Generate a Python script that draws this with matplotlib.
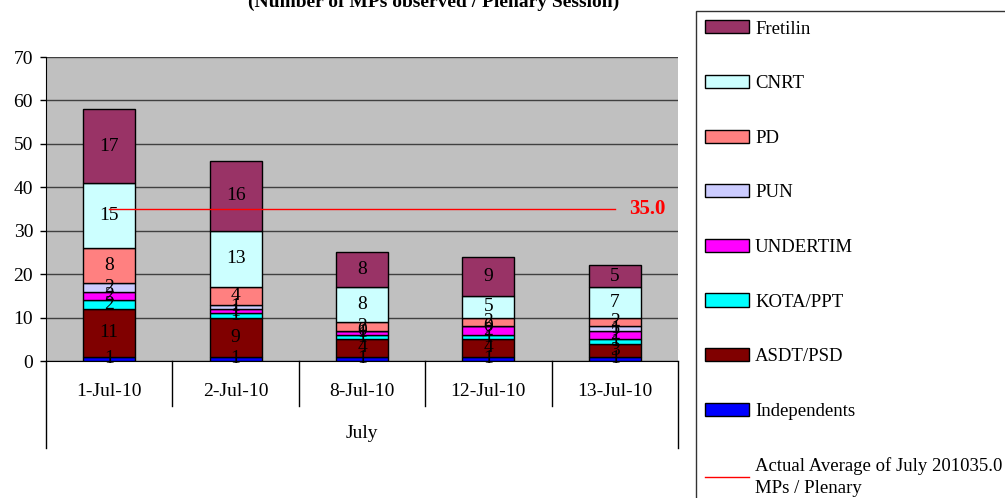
import matplotlib
matplotlib.use("Agg")
import matplotlib.pyplot as plt
import matplotlib.transforms as mtransforms
from matplotlib.lines import Line2D
import numpy as np

plt.rcParams['font.family'] = ['Liberation Serif', 'DejaVu Serif']

# Data
dates = ['1-Jul-10', '2-Jul-10', '8-Jul-10', '12-Jul-10', '13-Jul-10']
month = 'July'
independents = [1, 1, 1, 1, 1]
asdt_psd = [11, 9, 4, 4, 3]
kota_ppt = [2, 1, 1, 1, 1]
undertim = [2, 1, 1, 2, 2]
pun = [2, 1, 0, 0, 1]
pd_party = [8, 4, 2, 2, 2]
cnrt = [15, 13, 8, 5, 7]
fretilin = [17, 16, 8, 9, 5]
average = 35.0

series = [
    ('Independents', independents, '#0000FF'),
    ('ASDT/PSD', asdt_psd, '#800000'),
    ('KOTA/PPT', kota_ppt, '#00FFFF'),
    ('UNDERTIM', undertim, '#FF00FF'),
    ('PUN', pun, '#CCCCFF'),
    ('PD', pd_party, '#FF8080'),
    ('CNRT', cnrt, '#CCFFFF'),
    ('Fretilin', fretilin, '#993366'),
]

W, H = 1005, 498
fig = plt.figure(figsize=(W / 100, H / 100), dpi=100)
ax = fig.add_axes([46 / W, (H - 361) / H, (678 - 46) / W, (361 - 57) / H])
ax.set_facecolor('#C0C0C0')

x = np.arange(len(dates))
bottom = np.zeros(len(dates))
handles = []
for name, vals, col in series:
    vals = np.array(vals, dtype=float)
    bars = ax.bar(x, vals, 0.41, bottom=bottom, color=col, edgecolor='black',
                  linewidth=1, label=name, zorder=3)
    ax.bar_label(bars, labels=[f'{int(v)}' for v in vals], label_type='center',
                 fontsize=14, color='black', zorder=4)
    handles.append(bars)
    bottom += vals

avg_line, = ax.plot([x[0], x[-1]], [average, average], color='#FF0000', lw=1, zorder=5)
ax.annotate(f'{average:.1f}', (x[-1], average), xytext=(14, 0), textcoords='offset pixels',
            color='#FF0000', fontsize=15, fontweight='bold', va='center', ha='left')

ax.set_xlim(-0.5, len(dates) - 0.5)
ax.set_ylim(0, 70)
ax.set_yticks(np.arange(0, 71, 10))
ax.tick_params(axis='y', direction='out', length=4.3, width=1, labelsize=14, pad=5)
ax.set_xticks([])
ax.yaxis.grid(True, color='#404040', lw=1)
ax.set_axisbelow(True)
for s in ['top', 'right']:
    ax.spines[s].set_visible(False)
ax.spines['left'].set_color('black')
ax.spines['bottom'].set_color('black')

# category table below the axis
tr = mtransforms.blended_transform_factory(ax.transData, ax.transAxes)
ph = 361 - 57
row1 = -(406 - 361) / ph
row2 = -(448 - 361) / ph
for i in range(len(dates)):
    ax.text(x[i], -(391 - 361) / ph, dates[i], transform=tr, ha='center', va='center', fontsize=14)
for b in x[:-1] + 0.5:
    ax.add_line(Line2D([b, b], [0, row1], transform=tr, color='black', lw=1, clip_on=False))
for b in [x[0] - 0.5, x[-1] + 0.5]:
    ax.add_line(Line2D([b, b], [0, row2], transform=tr, color='black', lw=1, clip_on=False))
ax.text(np.mean(x), -(433 - 361) / ph, month, transform=tr, ha='center', va='center', fontsize=14)

fig.text(434 / W, 1 - 7 / H, '(Number of MPs observed / Plenary Session)', ha='center',
         va='baseline', fontsize=14, fontweight='bold')

leg_handles = handles[::-1] + [avg_line]
leg_labels = [s[0] for s in series[::-1]] + [f'Actual Average of July 2010{average:.1f}\nMPs / Plenary']
leg = fig.legend(leg_handles, leg_labels, loc='upper left', bbox_to_anchor=(696 / W, 1 - 11 / H),
                 frameon=True, fancybox=False, edgecolor='black', fontsize=13.5,
                 labelspacing=2.0, handlelength=2.3, handletextpad=0.35, borderpad=0.5,
                 borderaxespad=0)
leg.get_frame().set_linewidth(1)
leg.get_texts()[-1].set_linespacing(1.35)

fig.savefig('out.png', dpi=100)
